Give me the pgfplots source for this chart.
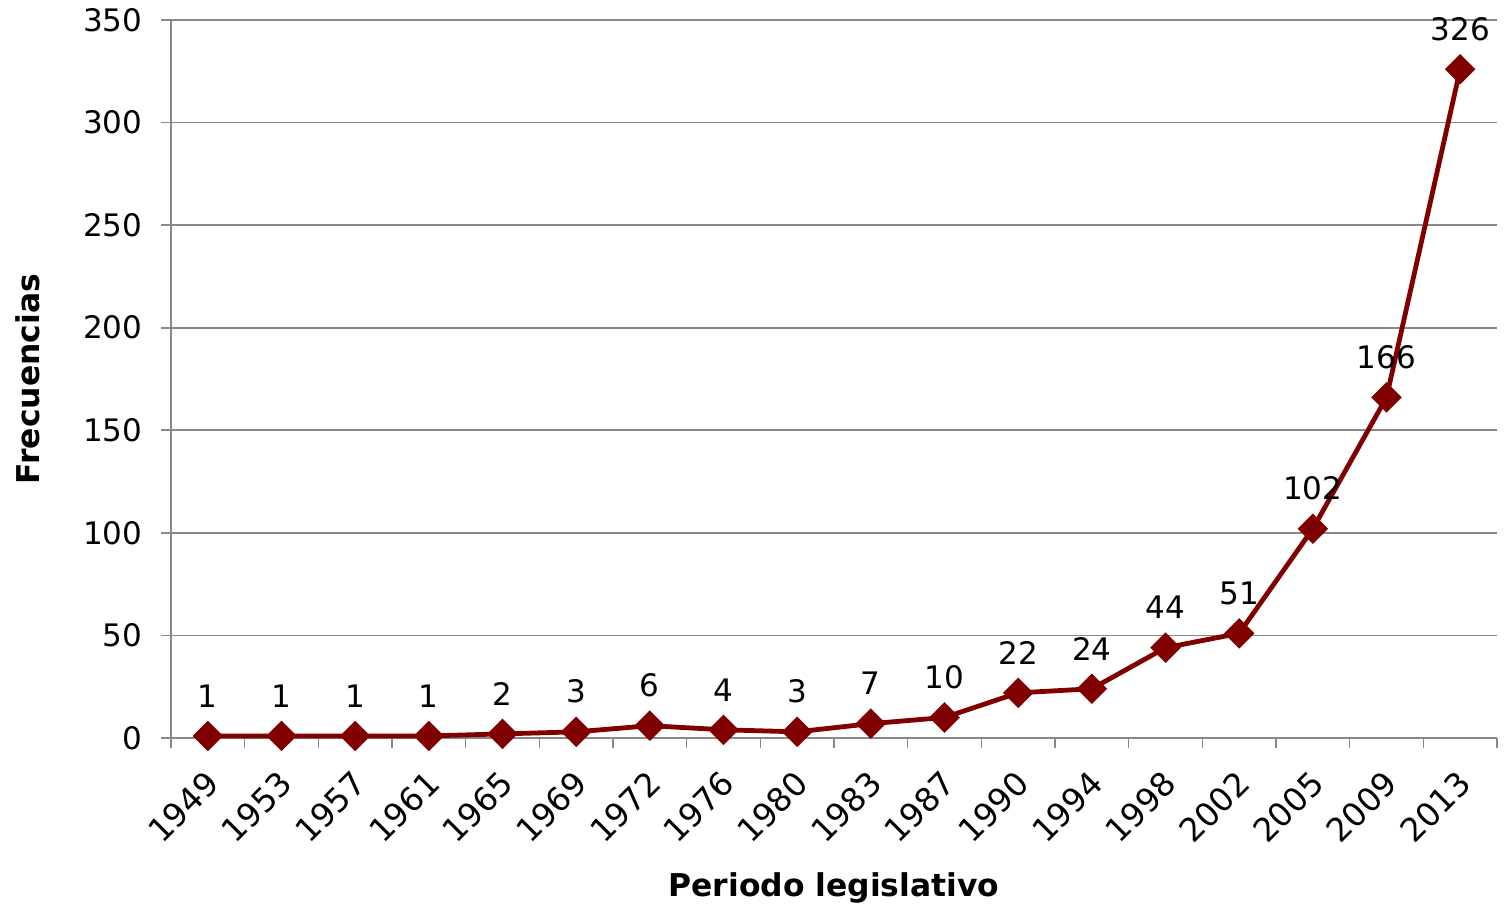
\documentclass[border=0pt]{standalone}
\usepackage{fontspec}
\setmainfont{DejaVu Sans}
\usepackage{pgfplots}
\pgfplotsset{compat=1.18}
\definecolor{serie}{HTML}{800000}
\definecolor{rejilla}{HTML}{898989}

\begin{document}
\begin{tikzpicture}
\fontsize{15.5}{18}\selectfont
\begin{axis}[
    scale only axis,
    width=663pt, height=359pt,
    xmin=-0.5, xmax=17.5,
    ymin=0, ymax=350,
    axis lines*=left,
    axis line style={rejilla, line width=0.8pt},
    xtick={-0.5,0.5,1.5,2.5,3.5,4.5,5.5,6.5,7.5,8.5,9.5,10.5,11.5,12.5,13.5,14.5,15.5,16.5,17.5},
    x tick label as interval,
    xticklabels={1949,1953,1957,1961,1965,1969,1972,1976,1980,1983,1987,1990,1994,1998,2002,2005,2009,2013},
    ytick={0,50,100,150,200,250,300,350},
    tick align=outside,
    major tick length=5pt,
    tick style={rejilla, line width=0.8pt},
    ymajorgrids,
    grid style={rejilla, line width=0.8pt},
    /pgf/number format/assume math mode=true,
    yticklabel style={font=\fontsize{15.5}{18}\selectfont, xshift=-4pt},
    xticklabel style={font=\fontsize{16.3}{19}\selectfont, xshift=-2pt, yshift=-3pt, rotate=45, anchor=north east},
    xlabel={\textbf{Periodo legislativo}},
    ylabel={\textbf{Frecuencias}},
    label style={font=\fontsize{15.7}{18}\selectfont},
    xlabel style={at={(rel axis cs:0.5,-0.2089)}, anchor=center},
    ylabel style={at={(rel axis cs:-0.1078,0.5)}, anchor=center},
    nodes near coords,
    nodes near coords style={anchor=south, yshift=8pt, text=black, font=\fontsize{15.5}{18}\selectfont},
    clip=false,
]
% Frecuencias por periodo legislativo
\addplot[serie, line width=2.4pt, mark=square*, mark size=4.2pt,
    mark options={rotate=45, fill=serie, solid}]
    coordinates {
    (0,1) (1,1) (2,1) (3,1) (4,2) (5,3) (6,6) (7,4) (8,3)
    (9,7) (10,10) (11,22) (12,24) (13,44) (14,51) (15,102) (16,166) (17,326)
    };
\end{axis}
\pgfresetboundingbox
\path (-85.5pt,-85pt) rectangle (669pt,369pt);
\end{tikzpicture}
\end{document}
